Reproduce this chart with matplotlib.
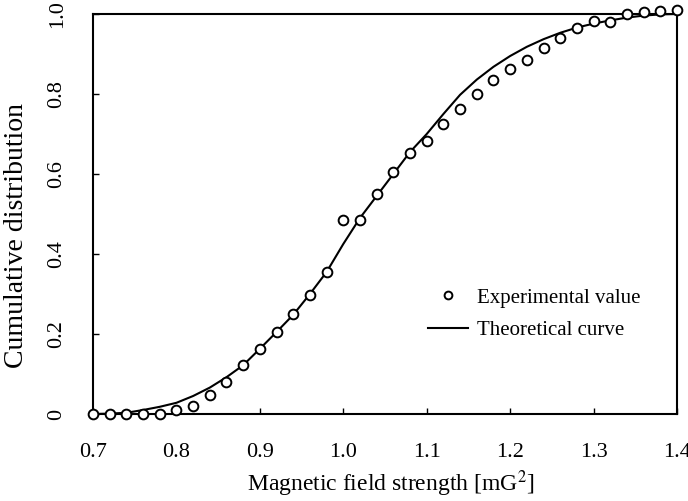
import numpy as np
import matplotlib
matplotlib.use("Agg")
import matplotlib.pyplot as plt

plt.rcParams["font.family"] = ["Liberation Serif", "DejaVu Serif"]
plt.rcParams["mathtext.fontset"] = "stix"

# experimental points
exp_x = [0.70, 0.72, 0.74, 0.76, 0.78, 0.80, 0.82, 0.84, 0.86, 0.88,
         0.90, 0.92, 0.94, 0.96, 0.98, 1.00, 1.02, 1.04, 1.06, 1.08,
         1.10, 1.12, 1.14, 1.16, 1.18, 1.20, 1.22, 1.24, 1.26, 1.28,
         1.30, 1.32, 1.34, 1.36, 1.38, 1.40]
exp_y = [0.0, 0.0, 0.0, 0.0, 0.0, 0.01, 0.02, 0.047, 0.079, 0.122,
         0.163, 0.204, 0.249, 0.297, 0.356, 0.484, 0.484, 0.549, 0.605, 0.652,
         0.683, 0.724, 0.763, 0.801, 0.835, 0.862, 0.885, 0.916, 0.941, 0.965,
         0.983, 0.981, 1.0, 1.004, 1.008, 1.01]

# theoretical curve
theo_x = [0.70, 0.72, 0.74, 0.76, 0.78, 0.80, 0.82, 0.84, 0.86, 0.88,
          0.90, 0.92, 0.94, 0.96, 0.98, 1.00, 1.02, 1.04, 1.06, 1.08,
          1.10, 1.12, 1.14, 1.16, 1.18, 1.20, 1.22, 1.24, 1.26, 1.28,
          1.30, 1.32, 1.34, 1.36, 1.38, 1.40]
theo_y = [0.0, 0.001, 0.003, 0.010, 0.018, 0.028, 0.045, 0.066, 0.092, 0.122,
          0.163, 0.205, 0.248, 0.300, 0.355, 0.425, 0.490, 0.545, 0.600, 0.655,
          0.700, 0.750, 0.798, 0.836, 0.868, 0.895, 0.918, 0.937, 0.953, 0.966,
          0.976, 0.984, 0.991, 0.996, 0.999, 1.0]

xticks = [0.7, 0.8, 0.9, 1.0, 1.1, 1.2, 1.3, 1.4]
xtick_labels = ["0.7", "0.8", "0.9", "1.0", "1.1", "1.2", "1.3", "1.4"]
yticks = [0.0, 0.2, 0.4, 0.6, 0.8, 1.0]
ytick_labels = ["0", "0.2", "0.4", "0.6", "0.8", "1.0"]

fig = plt.figure(figsize=(6.88, 5.01), dpi=100)
ax = fig.add_axes([93 / 688, 1 - 414 / 501, 584 / 688, 400 / 501])

ax.plot(theo_x, theo_y, color="black", lw=1.5, label="Theoretical curve")
ax.plot(exp_x, exp_y, linestyle="none", marker="o", ms=7, mfc="white",
        mec="black", mew=1.4, clip_on=False, zorder=3, label="Experimental value")

ax.set_xlim(0.7, 1.4)
ax.set_ylim(0, 1.0)

ax.set_xticks(xticks)
ax.set_xticklabels(xtick_labels, fontsize=16)
ax.set_yticks(yticks)
ax.set_yticklabels(ytick_labels, fontsize=16, rotation=90, va="center")
ax.tick_params(axis="x", direction="in", length=4, width=1, pad=21)
ax.tick_params(axis="y", direction="in", length=4, width=1, pad=19)

for s in ax.spines.values():
    s.set_linewidth(1.5)

fig.text(391 / 688, 1 - 491 / 501, "Magnetic field strength [mG$^2$]",
         fontsize=17, ha="center", va="baseline")
fig.text(17 / 688, 1 - 236 / 501, "Cumulative distribution",
         fontsize=20, ha="center", va="center", rotation=90)

handles, labels = ax.get_legend_handles_labels()
leg = ax.legend(handles[::-1], labels[::-1], loc="center left",
                bbox_to_anchor=(0.574, 0.25), frameon=False, fontsize=15,
                borderpad=0, borderaxespad=0, handlelength=1.9,
                handletextpad=0.45, labelspacing=0.6, markerscale=0.8)

fig.savefig("out.png", dpi=100)
